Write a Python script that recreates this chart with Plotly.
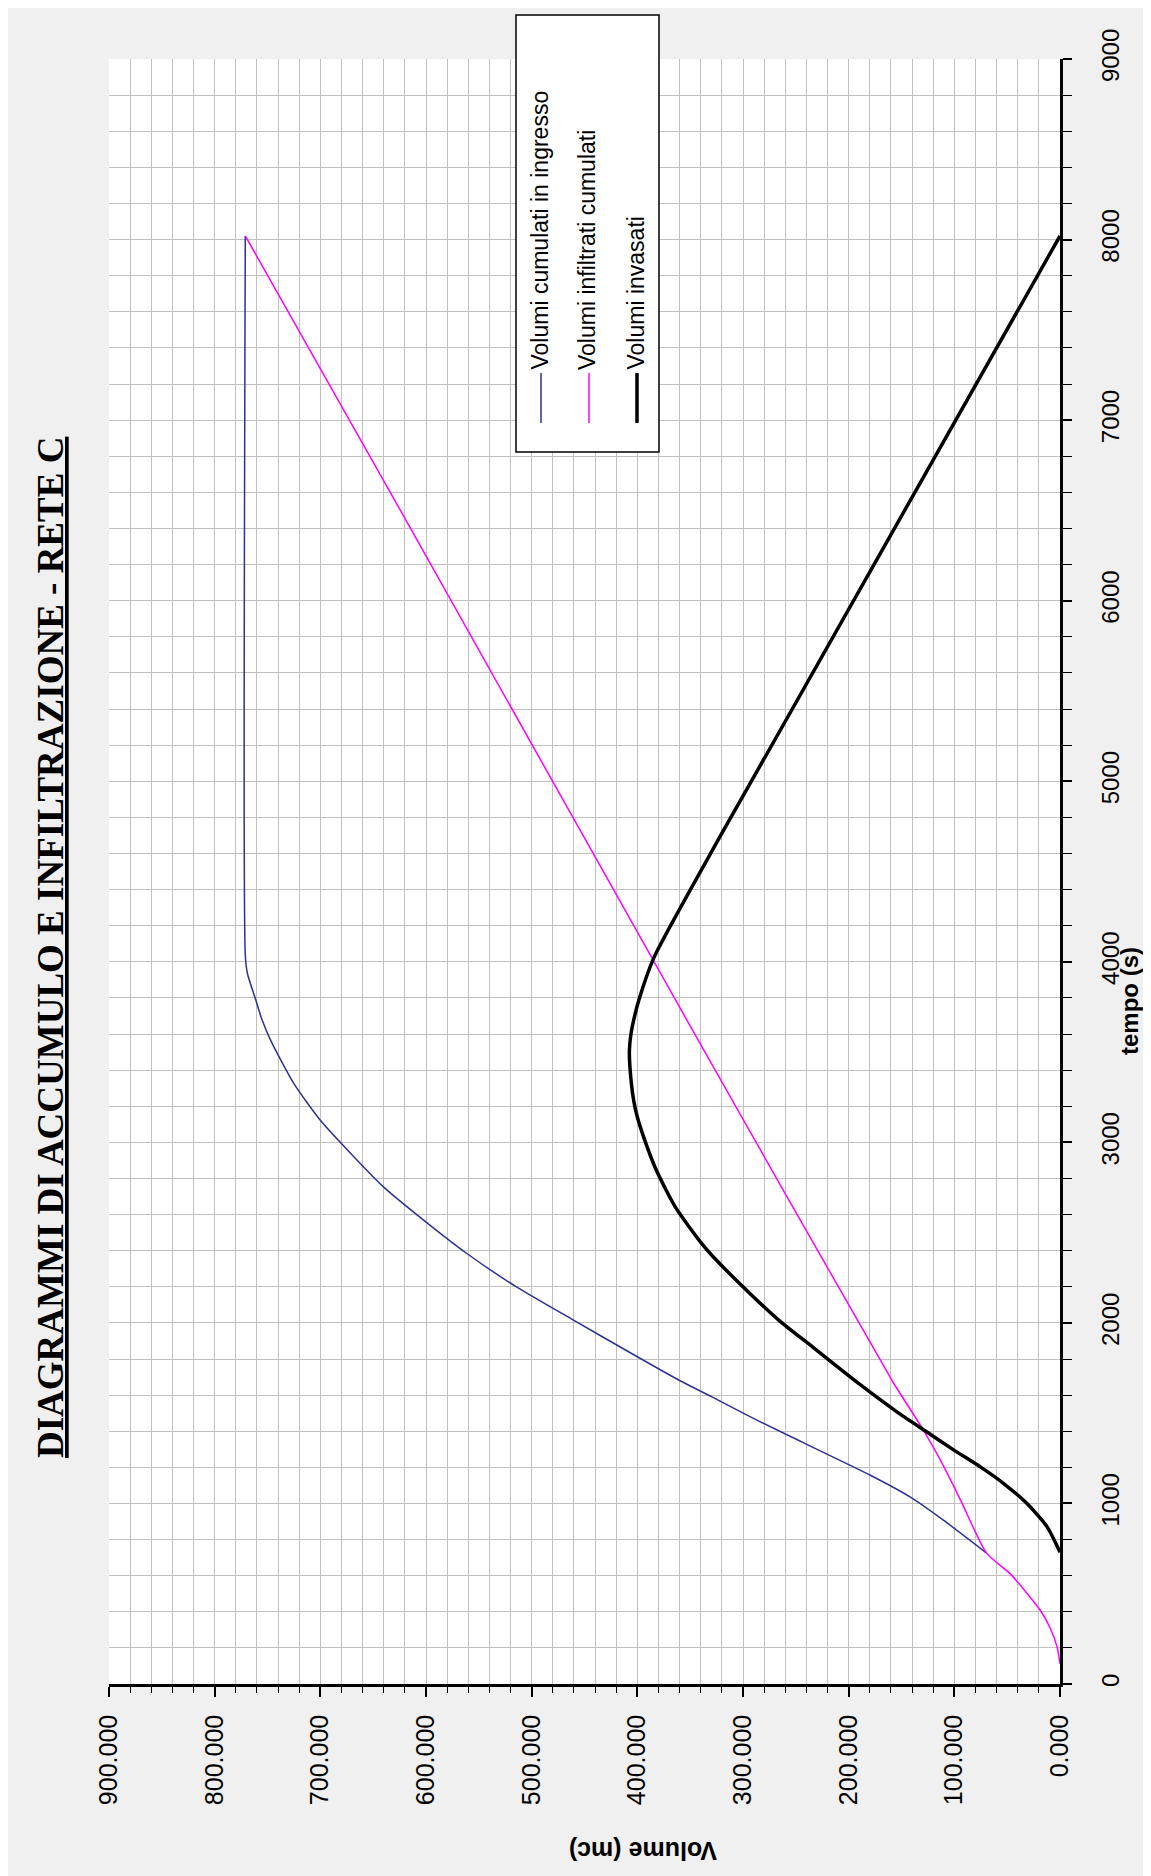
import plotly.graph_objects as go

# ---------------- data (time in s, volume in mc) ----------------
blue_t = [725, 906, 1035, 1155, 1450, 1589, 1681, 1829, 2014, 2198, 2383,
          2568, 2752, 2937, 3122, 3325, 3565, 3676, 3787, 3935, 4036, 8020]
blue_v = [69.5, 110, 141.5, 179, 283, 329, 360, 405, 460, 514, 561,
          602, 640, 671, 700, 725, 747, 755, 761, 769, 771, 771]

mag_t = [112, 204, 306, 407, 500, 610, 725, 1017, 1238, 1432, 1681, 3676, 6446, 8020]
mag_v = [0, 2.7, 9, 18.5, 31, 47, 69.5, 94, 113, 132, 159, 353, 619, 771]

blk_t = [730, 869, 998, 1109, 1201, 1294, 1404, 1506, 1658, 1866, 2014, 2217, 2365,
         2439, 2641, 2845, 3029, 3140, 3233, 3417, 3510, 3602, 3676, 3787,
         4027, 4701, 8020]
blk_v = [0, 12, 31, 53, 75, 100, 128, 154, 189, 234, 266, 303, 328,
         339, 364, 382, 394, 400, 403.5, 407, 407.5, 406, 403.5, 398.6,
         384, 321, 0]

series_names = ["Volumi cumulati in ingresso", "Volumi infiltrati cumulati", "Volumi invasati"]
title_text = "DIAGRAMMI DI ACCUMULO E INFILTRAZIONE - RETE C"
x_title = "Volume (mc)"
y_title = "tempo (s)"

# ---------------- layout geometry (page px; page has 8px body margin) ----------------
OFF = 8
W, H = 1151, 1876
L, R, T, B = 109 - OFF, 1060 - OFF, 59 - OFF, 1684 - OFF
PW, PH = R - L, B - T


def px(x):
    return (x - OFF - L) / PW


def py(y):
    return (B - (y - OFF)) / PH


colors = ["#2E3192", "#FF00FF", "#000000"]
widths = [1.5, 1.5, 3.5]
FONT = "Liberation Sans, Arial, sans-serif"

fig = go.Figure()
for t, v, name, c, w in zip([blue_t, mag_t, blk_t], [blue_v, mag_v, blk_v],
                            series_names, colors, widths):
    fig.add_trace(go.Scatter(x=v, y=t, mode="lines", name=name,
                             line=dict(color=c, width=w, shape="spline", smoothing=0.6),
                             showlegend=False))

grid = "#C0C0C0"
fig.update_layout(
    width=W, height=H,
    margin=dict(l=L, r=W - R, t=T, b=H - B, pad=0),
    paper_bgcolor="#F0F0F0",
    plot_bgcolor="#FFFFFF",
    font=dict(family=FONT, color="black"),
    xaxis=dict(
        range=[900, 0], tick0=0, dtick=100, tickformat=".3f",
        tickangle=-90, ticks="outside", ticklen=10, tickwidth=1.5, tickcolor="black",
        showgrid=True, gridcolor=grid, gridwidth=1.2,
        minor=dict(dtick=20, ticks="outside", ticklen=6, tickwidth=1.2, tickcolor="black",
                   showgrid=True, gridcolor=grid, gridwidth=1.2),
        showline=True, linecolor="black", linewidth=2.5,
        zeroline=False, tickfont=dict(size=25, family=FONT),
        ticklabelstandoff=8,
    ),
    yaxis=dict(
        range=[0, 9000], tick0=0, dtick=1000, side="right",
        tickangle=-90, ticks="outside", ticklen=9, tickwidth=1.5, tickcolor="black",
        showgrid=True, gridcolor=grid, gridwidth=1.2,
        minor=dict(dtick=200, ticks="outside", ticklen=9, tickwidth=1.2, tickcolor="black",
                   showgrid=True, gridcolor=grid, gridwidth=1.2),
        showline=True, linecolor="black", linewidth=2.5,
        zeroline=False, tickfont=dict(size=24, family=FONT),
        ticklabelstandoff=18,
    ),
)

ann = []
# chart title (rotated, underlined, serif bold)
ann.append(dict(text="<b><u>" + title_text + "</u></b>", x=px(51), y=py(948),
                xref="paper", yref="paper", showarrow=False, textangle=-90,
                xanchor="center", yanchor="middle",
                font=dict(family="Liberation Serif, Times New Roman, serif", size=37, color="black")))
# axis titles
ann.append(dict(text="<b>" + y_title + "</b>", x=px(1129), y=py(1001),
                xref="paper", yref="paper", showarrow=False, textangle=-90,
                xanchor="center", yanchor="middle", font=dict(size=24, family=FONT)))
ann.append(dict(text="<b>" + x_title + "</b>", x=px(643), y=py(1851),
                xref="paper", yref="paper", showarrow=False, textangle=180,
                xanchor="center", yanchor="middle", font=dict(size=25, family=FONT)))

shapes = []
# legend box
shapes.append(dict(type="rect", xref="paper", yref="paper",
                   x0=px(516), x1=px(659), y0=py(452), y1=py(15),
                   line=dict(color="black", width=1.5), fillcolor="white", layer="above"))
leg_x = [540, 588, 636]
for name, c, w, lx in zip(series_names, colors, widths, leg_x):
    shapes.append(dict(type="line", xref="paper", yref="paper",
                       x0=px(lx + 1), x1=px(lx + 1), y0=py(423), y1=py(373),
                       line=dict(color=c, width=w), layer="above"))
    ann.append(dict(text=name, x=px(lx - 1), y=py(372), xref="paper", yref="paper",
                    showarrow=False, textangle=-90, xanchor="center", yanchor="bottom",
                    font=dict(size=23, family=FONT, color="black")))

fig.update_layout(annotations=ann, shapes=shapes)
fig.write_html("out.html")
